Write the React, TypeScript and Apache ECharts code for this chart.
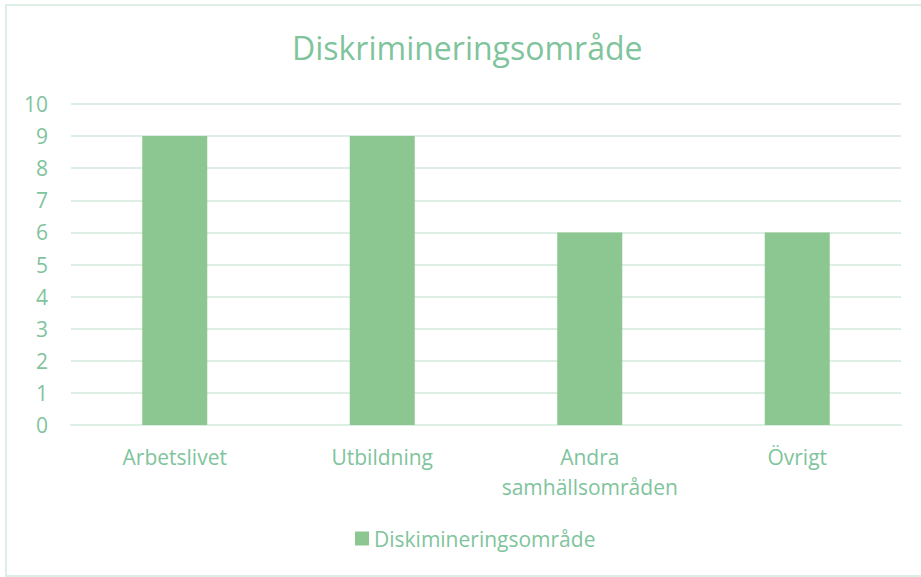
import React, { useEffect, useRef } from "react";
import * as echarts from "echarts";

const categories = ["Arbetslivet", "Utbildning", "Andra\nsamhällsområden", "Övrigt"];
const values = [9, 9, 6, 6];
const seriesName = "Diskimineringsområde";
const titleText = "Diskrimineringsområde";

const TEXT = "#7fc49c";
const BAR = "#8cc691";
const GRID = "#ddefe5";
const FONT = "'Open Sans', 'Noto Sans', sans-serif";

export default function App() {
  const ref = useRef<HTMLDivElement>(null);
  useEffect(() => {
    if (!ref.current) return;
    const chart = echarts.init(ref.current, undefined, { renderer: "svg" });
    chart.setOption({
      animation: false,
      backgroundColor: "#ffffff",
      textStyle: { fontFamily: FONT },
      graphic: [
        {
          type: "rect",
          shape: { x: 6, y: 5, width: 930, height: 571 },
          style: { fill: "none", stroke: GRID, lineWidth: 2 },
          silent: true,
        },
      ],
      title: {
        text: titleText,
        left: 287,
        top: 26,
        textStyle: { color: TEXT, fontSize: 32, fontWeight: "normal", fontFamily: FONT },
      },
      grid: { left: 71, right: 20, top: 104, bottom: 152, containLabel: false },
      xAxis: {
        type: "category",
        data: categories,
        axisLine: { show: true, lineStyle: { color: GRID, width: 2 } },
        axisTick: { show: false },
        axisLabel: {
          color: TEXT,
          fontSize: 21,
          margin: 17,
          lineHeight: 30,
          fontFamily: FONT,
          interval: 0,
        },
      },
      yAxis: {
        type: "value",
        min: 0,
        max: 10,
        interval: 1,
        axisLine: { show: false },
        axisTick: { show: false },
        splitLine: { lineStyle: { color: GRID, width: 2 } },
        axisLabel: { color: TEXT, fontSize: 21, margin: 23, fontFamily: FONT },
      },
      legend: {
        data: [seriesName],
        top: 523,
        left: 350,
        icon: "rect",
        itemWidth: 14,
        itemHeight: 14,
        itemGap: 6,
        textStyle: { color: TEXT, fontSize: 21, fontFamily: FONT },
      },
      series: [
        {
          name: seriesName,
          type: "bar",
          data: values,
          barWidth: 65,
          itemStyle: { color: BAR },
        },
      ],
    });
    return () => chart.dispose();
  }, []);
  return (
    <div
      ref={ref}
      style={{ position: "absolute", left: 0, top: 0, width: 921, height: 577 }}
    />
  );
}
